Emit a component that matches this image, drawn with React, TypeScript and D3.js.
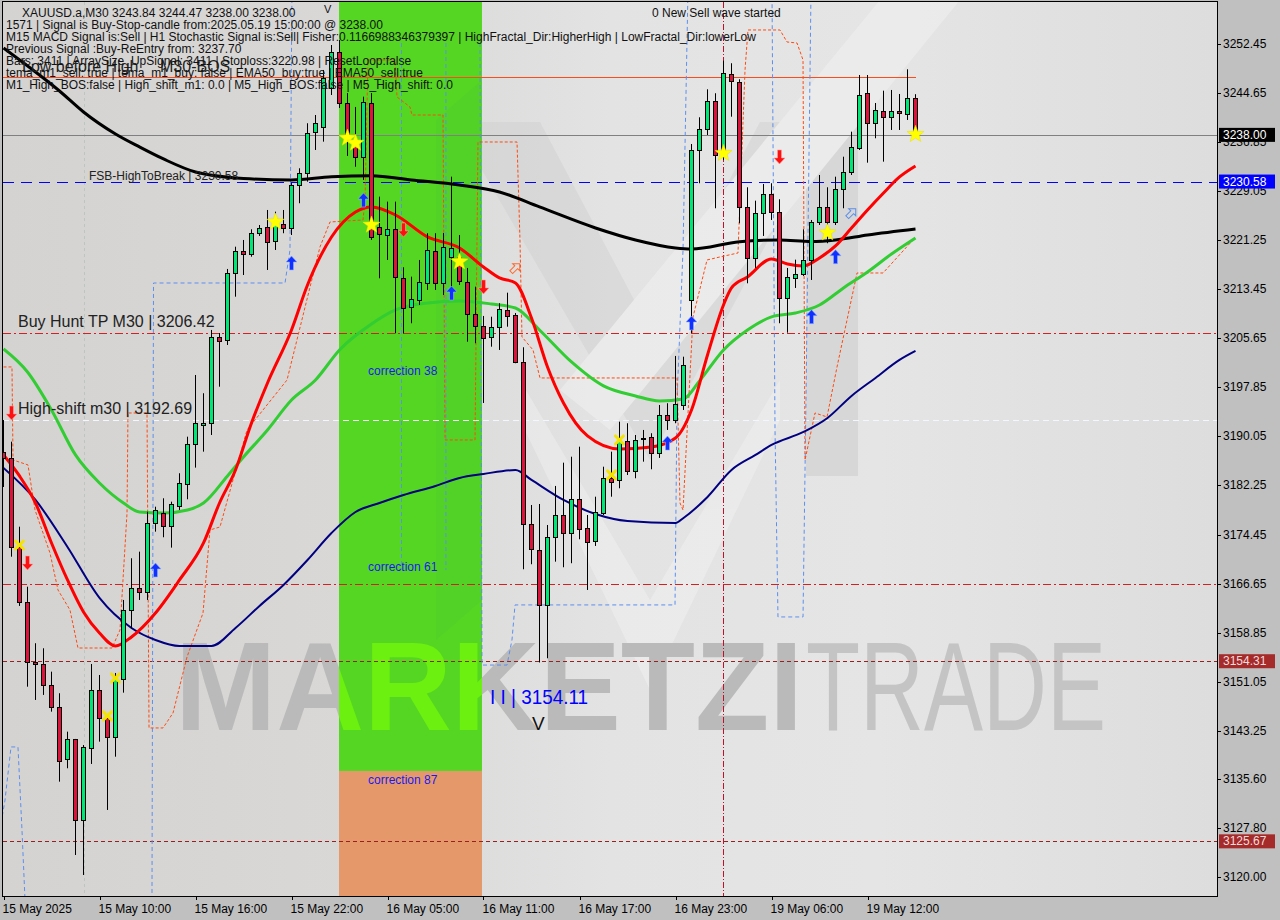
import React from "react";
import * as d3 from "d3";

const W = 1280;
const H = 920;

// ---- Candle data (M30 bars, index 0 = 15 May 04:00) ----
const opens = [3187.57,3186.58,3172.52,3163.78,3154.24,3153.83,3150.53,3146.99,3138.72,3141.90,3129.07,3140.47,3149.74,3145.34,3142.22,3151.44,3162.46,3165.91,3165.27,3176.34,3177.84,3175.86,3179.00,3182.45,3188.81,3191.87,3192.15,3205.91,3205.39,3216.00,3219.59,3219.06,3222.36,3223.31,3221.18,3223.83,3223.15,3230.03,3231.90,3238.51,3239.26,3245.46,3251.18,3243.03,3237.19,3234.44,3243.12,3223.40,3222.08,3223.04,3215.20,3210.59,3211.75,3214.40,3219.54,3214.40,3218.63,3218.63,3214.66,3209.52,3207.62,3205.82,3207.41,3210.11,3209.32,3201.89,3176.09,3172.00,3163.25,3174.02,3177.52,3174.66,3180.16,3175.45,3173.43,3177.84,3183.40,3183.13,3189.33,3184.61,3189.65,3190.01,3187.38,3193.46,3192.67,3195.05,3211.75,3235.60,3238.89,3243.39,3234.80,3247.68,3246.36,3226.49,3218.38,3225.54,3228.56,3225.69,3212.02,3215.20,3215.84,3218.06,3224.07,3226.49,3224.07,3229.35,3232.15,3235.87,3244.62,3239.85,3241.85,3240.80,3241.80,3241.32,3243.84];
const highs = [3192.66,3189.22,3175.70,3166.16,3157.17,3156.37,3152.65,3149.22,3143.11,3141.95,3140.99,3153.87,3152.12,3145.92,3152.44,3164.05,3170.68,3171.73,3178.09,3178.88,3180.22,3179.68,3184.20,3190.01,3199.82,3196.92,3206.98,3206.50,3216.68,3220.22,3221.29,3222.99,3223.67,3226.06,3225.79,3226.06,3230.35,3232.69,3239.85,3241.16,3248.32,3252.29,3253.09,3244.66,3242.44,3244.07,3244.66,3228.17,3227.38,3227.38,3216.95,3215.45,3218.11,3222.36,3222.36,3222.40,3231.35,3222.08,3216.84,3213.86,3209.21,3209.09,3211.23,3212.91,3209.68,3204.23,3179.15,3179.31,3175.97,3182.18,3185.88,3186.83,3188.42,3177.56,3180.47,3185.24,3187.63,3192.40,3192.15,3190.28,3191.08,3190.56,3195.05,3195.33,3202.85,3202.73,3236.55,3240.80,3245.25,3244.62,3249.80,3249.39,3246.84,3229.67,3227.54,3230.19,3230.31,3227.76,3216.84,3218.16,3222.99,3224.47,3231.62,3229.67,3231.35,3234.53,3238.51,3247.52,3247.52,3243.07,3245.03,3245.14,3244.50,3248.43,3244.47];
const lows = [3182.01,3170.93,3163.10,3150.26,3148.15,3148.95,3146.29,3135.16,3137.29,3123.50,3120.32,3137.97,3141.52,3130.66,3139.13,3149.31,3159.55,3164.05,3164.05,3174.91,3174.02,3172.37,3178.36,3180.06,3185.09,3187.63,3190.28,3197.96,3204.59,3212.27,3215.72,3218.63,3221.93,3216.52,3219.70,3222.36,3222.08,3227.13,3230.56,3235.60,3236.92,3244.34,3242.28,3234.65,3232.94,3230.83,3221.29,3215.20,3218.11,3206.45,3206.45,3208.05,3210.95,3213.34,3213.34,3212.54,3213.34,3214.13,3205.12,3204.87,3195.37,3204.32,3203.80,3207.50,3201.69,3168.93,3169.73,3154.11,3154.78,3170.14,3169.25,3169.89,3173.70,3165.64,3172.64,3177.56,3180.47,3181.81,3183.92,3183.40,3186.04,3184.83,3186.63,3191.08,3192.15,3194.26,3206.50,3230.31,3237.98,3226.33,3234.01,3240.89,3223.95,3214.40,3216.84,3221.93,3224.47,3208.05,3206.55,3213.66,3215.57,3214.93,3223.67,3220.77,3223.67,3226.33,3231.62,3235.60,3233.58,3237.46,3233.74,3238.78,3238.78,3240.37,3238.00];
const closes = [3186.62,3172.52,3163.78,3154.24,3153.83,3150.53,3147.08,3138.45,3141.90,3129.07,3140.63,3149.74,3145.34,3142.22,3151.44,3162.46,3165.91,3165.27,3176.34,3178.36,3175.86,3179.27,3182.61,3188.81,3192.15,3192.15,3205.91,3205.28,3216.00,3219.59,3219.02,3222.36,3223.15,3221.02,3224.20,3223.15,3230.03,3231.99,3238.35,3239.85,3247.05,3251.23,3243.07,3237.19,3234.44,3243.28,3221.81,3222.24,3223.04,3215.45,3210.43,3211.86,3214.56,3219.70,3214.40,3220.22,3219.97,3214.82,3209.52,3207.62,3205.66,3207.41,3210.27,3209.21,3201.89,3176.09,3172.11,3163.25,3174.02,3177.52,3174.66,3180.16,3175.29,3173.32,3178.09,3183.40,3182.86,3189.33,3184.61,3189.49,3189.76,3187.38,3193.46,3192.67,3195.17,3201.41,3235.60,3238.89,3243.39,3234.80,3247.80,3246.57,3226.58,3218.38,3225.54,3228.56,3225.69,3212.02,3215.36,3215.84,3218.06,3224.07,3226.49,3224.07,3229.35,3232.15,3236.03,3244.34,3239.85,3241.96,3240.80,3241.80,3241.44,3243.82,3238.00];

// ---- Moving averages [bar, price] ----
const maBlack = [[0,3251.82],[4,3248.0],[7,3244.98],[10,3241.64],[14,3238.14],[17,3236.08],[20,3234.17],[24,3232.1],[30,3231.07],[36,3230.83],[41,3231.35],[46,3231.51],[51,3230.83],[57,3230.03],[62,3228.92],[67,3226.54],[74,3223.2],[79,3221.29],[84,3220.02],[86,3219.86],[92,3221.02],[97,3221.29],[101,3221.05],[104,3221.29],[108,3222.08],[114,3223.04]];
const maRed = [[0,3187.11],[2,3183.77],[4,3179.47],[6,3173.11],[8,3167.23],[10,3162.14],[12,3158.8],[14,3156.74],[16,3158.17],[19,3161.98],[22,3167.23],[25,3173.11],[27,3179.47],[29,3184.72],[31,3192.19],[33,3198.55],[36,3206.98],[38,3214.13],[41,3221.77],[44,3225.74],[46,3226.54],[49,3225.26],[53,3221.77],[57,3220.02],[60,3217.0],[62,3215.25],[64,3214.45],[66,3208.89],[68,3201.1],[70,3195.37],[73,3190.13],[77,3188.06],[81,3188.38],[84,3189.81],[86,3194.26],[88,3203.0],[90,3210.95],[91,3213.66],[93,3215.41],[96,3218.27],[98,3217.47],[100,3217.16],[102,3218.43],[104,3220.34],[106,3223.2],[108,3226.06],[110,3228.76],[112,3231.31],[114,3233.06]];
const maGreen = [[0,3203.96],[3,3200.3],[6,3194.26],[9,3187.11],[12,3182.65],[15,3179.47],[17,3178.04],[20,3177.88],[23,3178.36],[25,3179.47],[28,3183.77],[30,3186.79],[33,3191.08],[36,3195.85],[39,3199.03],[42,3203.8],[46,3207.93],[49,3210.16],[53,3211.27],[57,3211.59],[61,3211.11],[64,3210.48],[67,3206.98],[71,3201.89],[75,3198.08],[79,3196.49],[82,3195.69],[85,3196.01],[87,3198.87],[90,3203.8],[93,3206.98],[96,3209.05],[99,3209.68],[102,3210.95],[105,3213.66],[108,3216.2],[111,3219.06],[114,3221.61]];
const maNavy = [[0,3185.04],[4,3179.95],[8,3172.48],[12,3164.37],[16,3159.6],[19,3157.69],[22,3156.74],[26,3156.74],[29,3159.6],[32,3163.1],[35,3166.44],[38,3170.41],[41,3174.7],[44,3178.04],[47,3179.47],[50,3180.74],[54,3182.18],[57,3183.45],[60,3184.08],[64,3184.72],[66,3183.13],[70,3179.95],[74,3177.72],[78,3176.61],[84,3176.29],[85,3177.09],[88,3180.43],[91,3184.72],[94,3187.11],[96,3188.7],[100,3190.76],[103,3192.99],[106,3196.49],[109,3199.35],[112,3202.21],[114,3203.64]];

// ---- Stepped envelope (orange dashed) [bar, price] ----
const envelope = [[0,3201.1],[1.06,3201.1],[1.19,3186.31],[3.06,3185.52],[3.94,3178.36],[5.81,3171.52],[6.81,3165.64],[8.31,3162.46],[9.31,3156.41],[13.56,3156.41],[14.56,3159.28],[15.44,3177.88],[15.56,3193.78],[17.94,3193.78],[18.19,3143.7],[19.94,3143.7],[21.19,3146.08],[22.94,3154.99],[24.94,3161.98],[25.81,3175.18],[27.06,3175.66],[28.69,3183.13],[30.44,3191.08],[35.44,3199.03],[39.56,3220.18],[40.81,3224.15],[44.94,3224.47],[45.19,3227.65],[45.56,3249.91],[48.94,3249.91],[49.19,3244.03],[50.81,3242.44],[51.06,3241.16],[54.94,3241.16],[55.19,3189.49],[58.94,3189.49],[59.31,3236.87],[64.19,3236.87],[64.56,3221.29],[64.81,3205.87],[66.19,3203.8],[67.06,3199.35],[84.19,3199.35],[84.56,3179.47],[84.94,3178.36],[86.19,3209.05],[87.94,3218.11],[89.56,3218.59],[91.81,3219.22],[92.69,3248.32],[93.06,3254.68],[97.06,3254.68],[97.94,3252.77],[99.19,3252.61],[99.94,3249.91],[100.19,3186.31],[101.44,3193.78],[102.94,3193.15],[104.19,3201.1],[105.44,3208.57],[106.69,3216.04],[109.94,3216.04],[113.69,3221.29]];

// ---- Blue dashed swing boxes [bar, price] ----
const blueSwings = [
  [[-0.44,3127.48],[0.19,3132.25],[0.94,3140.68],[1.81,3140.68],[2.31,3127.48],[2.69,3116.35]],
  [[18.56,3116.35],[18.75,3214.45],[35.19,3214.45],[35.81,3219.7],[36.06,3261.0]],
  [[49.75,3252.6],[49.75,3168.82]],
  [[55.3,3252.6],[55.3,3168.82]],
  [[59.56,3252.6],[59.81,3153.7],[62.94,3153.7],[63.56,3157.69],[63.94,3163.26],[83.94,3163.26],[84.19,3195.85],[84.94,3219.7],[85.56,3261.0]],
  [[96.06,3261.0],[96.44,3191.08],[96.81,3161.35],[99.94,3161.35],[100.31,3195.85],[100.94,3261.0]],
];

// ---- Signal markers [bar, price] ----
const starMarks = [[34,3224.15],[43,3237.51],[44,3236.71],[46,3223.68],[57,3217.84],[90,3235.08],[103,3222.45],[114,3238.1]];
const crossMarks = [[2,3172.79],[13,3145.61],[14,3151.65],[76,3183.93],[77,3189.49]];
const upArrows = [[19,3168.82],[36,3217.63],[45,3227.65],[56,3212.86],[83,3188.99],[86,3208.09],[101,3209.1],[104,3218.63]];
const downArrows = [[1,3193.78],[3,3169.93],[50,3222.88],[60,3213.82],[97,3234.49]];
const hollowArrows = [[64,3216.84,"#ff6a30"],[106,3225.58,"#5b8fe8"]];

// ---- Levels ----
const levelCurrent = 3238.0;
const levelFSB = 3230.58;
const levelBuyTP = 3206.42;
const levelHighShift = 3192.69;
const levelMid = 3166.55;
const levelLow1 = 3154.31;
const levelLow2 = 3125.67;
const levelTop = 3247.16;

// ---- Zone (correction area) ----
const zoneBars = [41.94, 59.81];
const zoneSplit = 3136.86;

// ---- Axis labels ----
const priceTicks = [3252.45,3244.65,3236.85,3229.05,3221.25,3213.45,3205.65,3197.85,3190.05,3182.25,3174.45,3166.65,3158.85,3151.05,3143.25,3135.6,3127.8,3120.0];
const timeLabels = ["15 May 2025","15 May 10:00","15 May 16:00","15 May 22:00","16 May 05:00","16 May 11:00","16 May 17:00","16 May 23:00","19 May 06:00","19 May 12:00"];
const timeLabelBars = [0,12,24,36,48,60,72,84,96,108];

const infoLines = [
  "1571 | Signal is Buy-Stop-candle from:2025.05.19 15:00:00 @ 3238.00",
  "M15 MACD Signal is:Sell | H1 Stochastic Signal is:Sell| Fisher:0.1166988346379397 | HighFractal_Dir:HigherHigh | LowFractal_Dir:lowerLow",
  "Previous Signal :Buy-ReEntry from: 3237.70",
  "Bars: 3411 | ArraySize_UpSignal: 3411 | Stoploss:3220.98 | ResetLoop:false",
  "tema_m1_sell: true | tema_m1_buy: false | EMA50_buy:true | EMA50_sell:true",
  "M1_High_BOS:false | High_shift_m1: 0.0 | M5_High_BOS:false | M5_High_shift: 0.0",
];

const PL = 3, PR = 1217, PT = 2, PB = 896;
const FONT = "'Liberation Sans', Arial, sans-serif";

function starPath(r: number) {
  const pts: string[] = [];
  for (let i = 0; i < 10; i++) {
    const rr = i % 2 === 0 ? r : r * 0.42;
    const a = -Math.PI / 2 + (i * Math.PI) / 5;
    pts.push(`${(rr * Math.cos(a)).toFixed(2)},${(rr * Math.sin(a)).toFixed(2)}`);
  }
  return "M" + pts.join("L") + "Z";
}

export default function App() {
  const x = d3.scaleLinear().domain([0, 114]).range([3.5, 915.5]);
  const y = d3.scaleLinear().domain([3120.0, 3252.45]).range([877, 44]);
  const snap = (v: number) => Math.round(v) + 0.5;

  const smooth = d3.line<number[]>().x((d) => x(d[0])).y((d) => y(d[1])).curve(d3.curveMonotoneX);
  const straight = d3.line<number[]>().x((d) => x(d[0])).y((d) => y(d[1]));

  const zx0 = x(zoneBars[0]);
  const zx1 = x(zoneBars[1]);
  const zSplit = y(zoneSplit);

  const star = starPath(9);

  const hLine = (p: number, stroke: string, dash?: string, x2 = PR, width = 1) => (
    <line x1={PL} x2={x2} y1={snap(y(p))} y2={snap(y(p))} stroke={stroke} strokeDasharray={dash} strokeWidth={width} />
  );

  return (
    <svg width={W} height={H} style={{ position: "absolute", left: 0, top: 0 }} fontFamily={FONT}>
      <defs>
        <linearGradient id="bg" x1="0" x2="1" y1="0" y2="0">
          <stop offset="0" stopColor="#d4d3d1" />
          <stop offset="0.3" stopColor="#d9d8d7" />
          <stop offset="0.5" stopColor="#e3e3e3" />
          <stop offset="0.72" stopColor="#e5e5e5" />
          <stop offset="1" stopColor="#dddddd" />
        </linearGradient>
        <clipPath id="plot">
          <rect x={PL} y={PT} width={PR - PL} height={PB - PT} />
        </clipPath>
        <clipPath id="zoneclip">
          <rect x={zx0} y={PT} width={zx1 - zx0} height={zSplit - PT} />
        </clipPath>
      </defs>

      {/* outer background */}
      <rect x={0} y={0} width={W} height={H} fill="#c0c0c0" />
      <rect x={PL} y={PT} width={PR - PL} height={PB - PT} fill="url(#bg)" />

      <g clipPath="url(#plot)">
        {/* watermark logo */}
        <g opacity={0.4}>
          <polygon points="432,122 482,122 482,476 432,476" fill="#c4c4c4" />
          <polygon points="806,122 858,122 858,476 806,476" fill="#c4c4c4" />
          <polygon points="482,122 540,122 650,330 760,122 806,122 806,170 650,460 482,170" fill="#cdcdcd" />
          <polygon points="880,0 960,0 610,430 560,390" fill="#f6f6f6" />
          <polygon points="520,380 650,600 780,380 780,420 650,690 520,420" fill="#f4f4f4" />
        </g>
        <text x={175} y={730} fontSize={126} fontWeight={700} fill="#bababa" textLength={628} lengthAdjust="spacingAndGlyphs">MARKETZI</text>
        <text x={806} y={730} fontSize={126} fontWeight={400} fill="#c4c4c4" textLength={300} lengthAdjust="spacingAndGlyphs">TRADE</text>

        {/* correction zone */}
        <rect x={zx0} y={PT} width={zx1 - zx0} height={zSplit - PT} fill="#55d622" />
        <rect x={zx0} y={zSplit} width={zx1 - zx0} height={PB - zSplit} fill="#e5996a" />
        <g clipPath="url(#zoneclip)">
          <polygon points="436,120 482,80 482,600 436,640" fill="#4fcd2c" opacity={0.5} />
          <text x={175} y={730} fontSize={126} fontWeight={700} fill="#6cf010" textLength={628} lengthAdjust="spacingAndGlyphs">MARKETZI</text>
        </g>
        <text x={368} y={375} fontSize={12} fill="#1a1aee">correction 38</text>
        <text x={368} y={571} fontSize={12} fill="#1a1aee">correction 61</text>
        <text x={368} y={784} fontSize={12} fill="#1a1aee">correction 87</text>

        {/* vertical markers */}
        <line x1={snap(x(10))} x2={snap(x(10))} y1={PT} y2={PB} stroke="#b8c8c0" strokeDasharray="3,3" />
        <line x1={snap(x(90)) - 1} x2={snap(x(90)) - 1} y1={PT} y2={PB} stroke="#c0102a" strokeDasharray="6,2,1,2" />

        {/* horizontal levels */}
        {hLine(levelTop, "#ff4a1a", undefined, 916)}
        {hLine(levelCurrent, "#808080")}
        {hLine(levelFSB, "#0000ff", "11,7")}
        {hLine(levelBuyTP, "#d42020", "8,3,2,3")}
        {hLine(levelHighShift, "#f4f6ff", "6,4")}
        {hLine(levelMid, "#d42020", "8,3,2,3")}
        {hLine(levelLow1, "#9a2020", "4,3")}
        {hLine(levelLow2, "#9a2020", "4,3")}

        {/* blue dashed swing boxes */}
        {blueSwings.map((s, i) => (
          <path key={i} d={straight(s) || ""} fill="none" stroke="#5b8ff0" strokeDasharray="4,3" strokeWidth={1} />
        ))}

        {/* orange envelope */}
        <path d={straight(envelope) || ""} fill="none" stroke="#ff4a10" strokeDasharray="3,2" strokeWidth={1} />

        {/* moving averages */}
        <path d={smooth(maNavy) || ""} fill="none" stroke="#000080" strokeWidth={2} />
        <path d={smooth(maGreen) || ""} fill="none" stroke="#32cd32" strokeWidth={3} />
        <path d={smooth(maBlack) || ""} fill="none" stroke="#000000" strokeWidth={3} />
        <path d={smooth(maRed) || ""} fill="none" stroke="#ff0000" strokeWidth={3} />

        {/* candles */}
        {opens.map((o, i) => {
          const c = closes[i];
          const up = c >= o;
          const cx = x(i);
          const top = Math.round(y(Math.max(o, c))) + 0.5;
          const bot = Math.round(y(Math.min(o, c))) + 0.5;
          return (
            <g key={i}>
              <line x1={cx} x2={cx} y1={y(highs[i])} y2={y(lows[i])} stroke="#000" strokeWidth={1} />
              <rect x={cx - 2} y={top} width={4} height={Math.max(bot - top, 1)} fill={up ? "#00e676" : "#dc143c"} stroke="#000" strokeWidth={1} />
            </g>
          );
        })}

        {/* markers */}
        {starMarks.map((m, i) => (
          <path key={i} d={star} transform={`translate(${x(m[0])},${y(m[1])})`} fill="#ffff00" stroke="#e8e000" strokeWidth={0.5} />
        ))}
        {crossMarks.map((m, i) => (
          <g key={i} transform={`translate(${x(m[0])},${y(m[1])})`} stroke="#f5e400" strokeWidth={3} strokeLinecap="round">
            <line x1={-4} y1={-4} x2={4} y2={4} />
            <line x1={4} y1={-4} x2={-4} y2={4} />
          </g>
        ))}
        {upArrows.map((m, i) => (
          <path key={i} d="M0,-7L5.5,-1L2,-1L2,7L-2,7L-2,-1L-5.5,-1Z" transform={`translate(${x(m[0])},${y(m[1])})`} fill="#1030ff" stroke="#8fb0ff" strokeWidth={0.6} />
        ))}
        {downArrows.map((m, i) => (
          <path key={i} d="M0,7L5.5,1L2,1L2,-7L-2,-7L-2,1L-5.5,1Z" transform={`translate(${x(m[0])},${y(m[1])})`} fill="#ff1010" stroke="#ffa0a0" strokeWidth={0.6} />
        ))}
        {hollowArrows.map((m, i) => (
          <path key={i} d="M0,-6L5,-1L2,-1L2,6L-2,6L-2,-1L-5,-1Z" transform={`translate(${x(m[0] as number)},${y(m[1] as number)}) rotate(45)`} fill="none" stroke={m[2] as string} strokeWidth={1} />
        ))}

        {/* chart labels */}
        <text x={22} y={72} fontSize={16} fill="#222">Low before High</text>
        <text x={160} y={72} fontSize={16} fill="#222">M30-BOS</text>
        <text x={89} y={180} fontSize={12} fill="#222">FSB-HighToBreak | 3230.58</text>
        <text x={18} y={327} fontSize={16} fill="#222">Buy Hunt TP M30 | 3206.42</text>
        <text x={18} y={414} fontSize={16} fill="#222">High-shift m30 | 3192.69</text>
        <text x={652} y={17} fontSize={12} fill="#111">0 New Sell wave started</text>
        <text x={490} y={704} fontSize={21} fill="#0000ff" textLength={98} lengthAdjust="spacingAndGlyphs">I I | 3154.11</text>
        <text x={532} y={730} fontSize={19} fill="#111">V</text>
        <text x={324} y={13} fontSize={11} fill="#111">V</text>

        {/* info text */}
        <text x={22} y={17} fontSize={12} fill="#111">XAUUSD.a,M30  3243.84 3244.47 3238.00 3238.00</text>
        {infoLines.map((t, i) => (
          <text key={i} x={6} y={29 + i * 12} fontSize={12} fill="#111">{t}</text>
        ))}
      </g>

      {/* plot frame */}
      <rect x={PL - 0.5} y={PT - 0.5} width={PR - PL + 1} height={PB - PT + 1} fill="none" stroke="#000" strokeWidth={1} />

      {/* right price axis */}
      {priceTicks.map((p, i) => (
        <g key={i}>
          <line x1={PR} x2={PR + 4} y1={snap(y(p))} y2={snap(y(p))} stroke="#000" />
          <text x={1223} y={y(p) + 4} fontSize={12} fill="#000">{p.toFixed(2)}</text>
        </g>
      ))}
      {[
        [levelCurrent, "#000000", "#ffffff"],
        [levelFSB, "#0000ff", "#ffffff"],
        [levelLow1, "#a52a2a", "#f4dcdc"],
        [levelLow2, "#a52a2a", "#f4dcdc"],
      ].map((b, i) => (
        <g key={i}>
          <rect x={1219} y={y(b[0] as number) - 7} width={56} height={14} fill={b[1] as string} />
          <text x={1223} y={y(b[0] as number) + 4} fontSize={12} fill={b[2] as string}>{(b[0] as number).toFixed(2)}</text>
        </g>
      ))}

      {/* bottom time axis */}
      {timeLabels.map((t, i) => (
        <g key={i}>
          <line x1={snap(x(timeLabelBars[i]))} x2={snap(x(timeLabelBars[i]))} y1={PB} y2={PB + 4} stroke="#000" />
          <text x={x(timeLabelBars[i]) - 1} y={913} fontSize={12} fill="#000">{t}</text>
        </g>
      ))}
    </svg>
  );
}
